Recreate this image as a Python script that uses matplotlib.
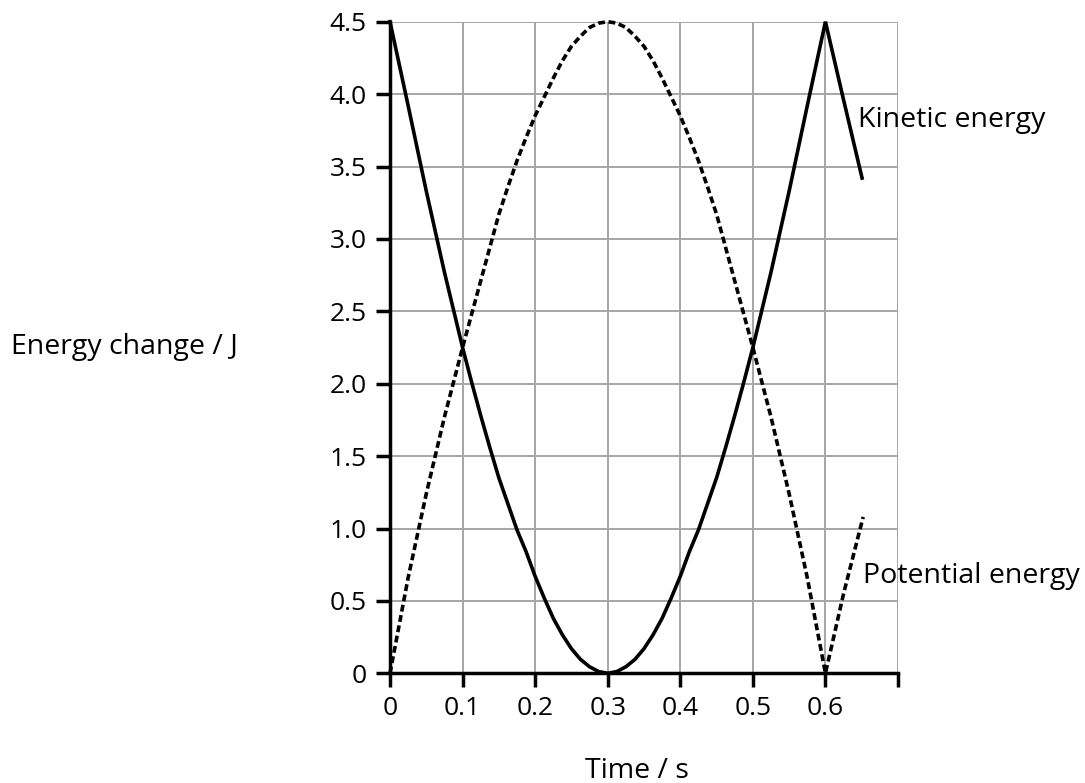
import matplotlib
matplotlib.use("Agg")
import matplotlib.pyplot as plt

plt.rcParams['font.family'] = ['Open Sans', 'DejaVu Sans']

# Data (time in s, energy in J)
time = [0.0, 0.025, 0.05, 0.075, 0.1, 0.1125, 0.125, 0.1375, 0.15, 0.1625, 0.175, 0.1875, 0.2,
        0.2125, 0.225, 0.2375, 0.25, 0.2625, 0.275, 0.2875, 0.3,
        0.3125, 0.325, 0.3375, 0.35, 0.3625, 0.375, 0.3875, 0.4, 0.4125, 0.425, 0.4375, 0.45,
        0.4625, 0.475, 0.4875, 0.5, 0.525, 0.55, 0.575, 0.6, 0.625, 0.6505]
kinetic = [4.5, 3.92, 3.33, 2.77, 2.25, 2.01, 1.78, 1.56, 1.35, 1.17, 0.99, 0.84, 0.67,
           0.52, 0.38, 0.266, 0.17, 0.096, 0.045, 0.012, 0.0,
           0.012, 0.045, 0.096, 0.17, 0.266, 0.38, 0.52, 0.67, 0.84, 0.99, 1.17, 1.35,
           1.56, 1.78, 2.01, 2.25, 2.77, 3.33, 3.92, 4.5, 3.96, 3.42]
time_pe = [0.0, 0.025, 0.05, 0.075, 0.1, 0.1125, 0.125, 0.1375, 0.15, 0.1625, 0.175, 0.1875, 0.2,
           0.2125, 0.225, 0.2375, 0.25, 0.2625, 0.275, 0.2875, 0.3,
           0.3125, 0.325, 0.3375, 0.35, 0.3625, 0.375, 0.3875, 0.4, 0.4125, 0.425, 0.4375, 0.45,
           0.4625, 0.475, 0.4875, 0.5, 0.525, 0.55, 0.575, 0.6, 0.625, 0.652]
potential = [0.0, 0.66, 1.24, 1.77, 2.25, 2.48, 2.71, 2.94, 3.17, 3.36, 3.54, 3.70, 3.85,
             3.98, 4.11, 4.23, 4.33, 4.40, 4.46, 4.49, 4.5,
             4.49, 4.46, 4.40, 4.33, 4.23, 4.11, 3.98, 3.85, 3.70, 3.54, 3.36, 3.17,
             2.94, 2.71, 2.48, 2.25, 1.77, 1.24, 0.66, 0.0, 0.55, 1.08]

x_ticks = [0, 0.1, 0.2, 0.3, 0.4, 0.5, 0.6, 0.7]
x_tick_labels = ['0', '0.1', '0.2', '0.3', '0.4', '0.5', '0.6', '']
y_ticks = [0, 0.5, 1.0, 1.5, 2.0, 2.5, 3.0, 3.5, 4.0, 4.5]
y_tick_labels = ['0', '0.5', '1.0', '1.5', '2.0', '2.5', '3.0', '3.5', '4.0', '4.5']

W, H = 1085, 783
fig = plt.figure(figsize=(W / 100, H / 100), dpi=100)
ax = fig.add_axes([390 / W, 1 - 673.3 / H, (898 - 390) / W, (673.3 - 21.7) / H])

ax.set_xlim(0, 0.7)
ax.set_ylim(0, 4.5)
ax.set_xticks(x_ticks)
ax.set_xticklabels(x_tick_labels)
ax.set_yticks(y_ticks)
ax.set_yticklabels(y_tick_labels)

ax.grid(True, color='#a6a6a6', linewidth=1.4)
ax.set_axisbelow(True)
for s in ['top', 'right']:
    ax.spines[s].set_visible(False)
for s in ['left', 'bottom']:
    ax.spines[s].set_linewidth(2.5)
    ax.spines[s].set_color('black')
    ax.spines[s].set_zorder(5)

ax.tick_params(axis='both', direction='out', length=10, width=2.5, labelsize=19, colors='black', pad=6)
ax.tick_params(axis='y', pad=7)

ax.plot(time, kinetic, color='black', linewidth=2.6, solid_joinstyle='miter', clip_on=False, zorder=4)
ax.plot(time_pe, potential, color='black', linewidth=2.6, linestyle=(0, (1.9, 1.0)),
        clip_on=False, zorder=4)

ax.text(0.645, 3.82, 'Kinetic energy', fontsize=20.5, va='center', ha='left')
ax.text(0.652, 0.67, 'Potential energy', fontsize=20.5, va='center', ha='left')

fig.text(11 / W, 1 - 347 / H, 'Energy change / J', fontsize=20.5, va='center', ha='left')
fig.text(637 / W, 1 - 757 / H, 'Time / s', fontsize=20.5, va='top', ha='center')

fig.savefig('out.png', dpi=100, facecolor='white')
